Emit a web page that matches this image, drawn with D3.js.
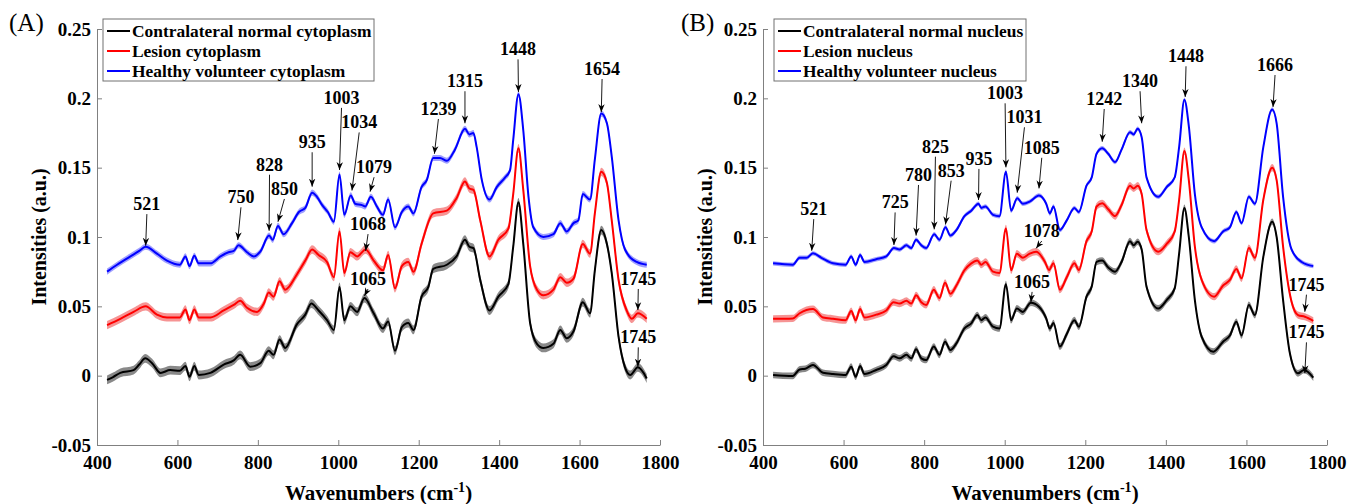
<!DOCTYPE html>
<html>
<head>
<meta charset="utf-8">
<script src="https://cdn.jsdelivr.net/npm/d3@7"></script>
<style>
  body { margin: 0; background: #fff; }
  svg { display: block; }
  text { font-family: "Liberation Serif", "Times New Roman", serif; }
</style>
</head>
<body>
<svg id="fig" width="1358" height="504"></svg>
<script>
// ---- Shared axis settings -------------------------------------------------
const xTicks = [400, 600, 800, 1000, 1200, 1400, 1600, 1800];
const yTicks = [-0.05, 0, 0.05, 0.1, 0.15, 0.2, 0.25];
const yTickLabels = ["-0.05", "0", "0.05", "0.1", "0.15", "0.2", "0.25"];

// ---- (A) cytoplasm mean spectra: [wavenumber, intensity] ----------------------
const cytoNormal = [[425,-0.003],[440,-0.001],[458,0.002],[491,0.004],[505,0.008],[520,0.0125],[537,0.009],[558,0.002],[582,0.004],[606,0.0036],[620,0.0069],[630,-0.0008],[642,0.0069],[653,0.0005],[682,0.002],[715,0.008],[740,0.011],[756,0.015],[781,0.0065],[806,0.009],[827,0.018],[839,0.015],[854,0.026],[868,0.020],[897,0.037],[918,0.044],[933,0.052],[951,0.047],[972,0.040],[989,0.033],[1003,0.064],[1015,0.040],[1030,0.050],[1047,0.046],[1065,0.056],[1088,0.045],[1111,0.034],[1124,0.039],[1141,0.018],[1158,0.035],[1174,0.038],[1187,0.033],[1207,0.057],[1224,0.064],[1236,0.077],[1270,0.080],[1294,0.086],[1315,0.098],[1326,0.093],[1336,0.092],[1353,0.069],[1376,0.047],[1398,0.057],[1423,0.066],[1435,0.093],[1448,0.125],[1460,0.095],[1477,0.038],[1494,0.023],[1510,0.020],[1535,0.023],[1552,0.033],[1568,0.027],[1585,0.032],[1608,0.053],[1626,0.045],[1638,0.076],[1654,0.105],[1668,0.095],[1680,0.074],[1697,0.028],[1713,0.006],[1726,0.0005],[1745,0.006],[1767,-0.002]];
const cytoLesion = [[425,0.0365],[458,0.041],[491,0.046],[521,0.050],[549,0.044],[574,0.042],[606,0.042],[620,0.0478],[630,0.040],[642,0.0478],[653,0.042],[682,0.042],[715,0.047],[740,0.051],[756,0.054],[773,0.049],[798,0.046],[815,0.052],[827,0.060],[839,0.057],[854,0.068],[868,0.062],[897,0.073],[918,0.083],[935,0.091],[951,0.087],[972,0.082],[989,0.071],[1003,0.104],[1015,0.074],[1030,0.089],[1047,0.086],[1068,0.091],[1088,0.083],[1111,0.076],[1124,0.087],[1141,0.063],[1158,0.079],[1174,0.082],[1187,0.075],[1207,0.095],[1236,0.117],[1270,0.119],[1294,0.128],[1315,0.140],[1326,0.135],[1336,0.134],[1353,0.112],[1376,0.086],[1398,0.098],[1423,0.106],[1435,0.131],[1448,0.164],[1460,0.134],[1477,0.079],[1494,0.062],[1510,0.058],[1535,0.062],[1552,0.071],[1568,0.067],[1585,0.070],[1608,0.095],[1626,0.088],[1638,0.117],[1654,0.147],[1668,0.139],[1680,0.112],[1697,0.069],[1717,0.047],[1730,0.041],[1745,0.045],[1767,0.041]];
const cytoHealthy = [[425,0.075],[450,0.080],[483,0.086],[505,0.090],[521,0.093],[549,0.088],[574,0.083],[606,0.080],[620,0.086],[630,0.079],[642,0.0865],[653,0.081],[682,0.081],[707,0.086],[727,0.089],[740,0.090],[752,0.094],[773,0.089],[790,0.086],[806,0.0894],[828,0.101],[837,0.098],[850,0.108],[864,0.102],[885,0.110],[902,0.118],[918,0.121],[935,0.132],[947,0.129],[960,0.123],[974,0.118],[989,0.111],[1003,0.145],[1015,0.116],[1031,0.130],[1042,0.124],[1059,0.123],[1067,0.122],[1081,0.129],[1096,0.122],[1111,0.116],[1124,0.127],[1141,0.107],[1158,0.118],[1174,0.122],[1187,0.117],[1207,0.136],[1220,0.141],[1236,0.157],[1253,0.157],[1270,0.155],[1290,0.163],[1315,0.178],[1326,0.174],[1336,0.175],[1344,0.165],[1357,0.141],[1376,0.127],[1394,0.136],[1415,0.143],[1427,0.148],[1435,0.170],[1448,0.203],[1460,0.177],[1473,0.129],[1485,0.107],[1510,0.100],[1535,0.102],[1552,0.110],[1568,0.104],[1585,0.110],[1597,0.112],[1608,0.131],[1626,0.127],[1638,0.156],[1654,0.189],[1668,0.182],[1680,0.158],[1697,0.112],[1713,0.091],[1742,0.082],[1767,0.080]];

// ---- (B) nucleus mean spectra: [wavenumber, intensity] -----------------------
const nucNormal = [[425,0.0005],[474,-0.0002],[491,0.0045],[505,0.005],[524,0.0077],[549,0.0021],[574,0.0012],[605,0.0005],[619,0.0065],[630,-0.0008],[641,0.0069],[652,0.0012],[681,0.0041],[706,0.0077],[724,0.014],[739,0.0125],[756,0.015],[768,0.0125],[780,0.019],[793,0.0125],[805,0.0113],[824,0.021],[838,0.015],[852,0.0245],[865,0.0185],[880,0.0233],[900,0.0341],[917,0.0377],[932,0.0437],[942,0.040],[952,0.042],[971,0.0353],[987,0.034],[1003,0.066],[1016,0.040],[1030,0.0485],[1045,0.046],[1065,0.0526],[1085,0.0497],[1103,0.0413],[1112,0.034],[1121,0.038],[1137,0.021],[1154,0.030],[1173,0.040],[1184,0.0353],[1203,0.057],[1216,0.0642],[1228,0.082],[1242,0.083],[1257,0.078],[1274,0.075],[1290,0.082],[1311,0.097],[1320,0.094],[1330,0.0966],[1340,0.091],[1352,0.0642],[1381,0.0485],[1402,0.0545],[1422,0.063],[1433,0.0882],[1446,0.121],[1457,0.100],[1472,0.0545],[1489,0.028],[1518,0.0173],[1542,0.0245],[1559,0.029],[1575,0.0389],[1588,0.029],[1606,0.051],[1621,0.0437],[1642,0.0858],[1664,0.111],[1675,0.100],[1691,0.0545],[1708,0.016],[1728,0.0017],[1743,0.0041],[1766,-0.0014]];
const nucLesion = [[425,0.041],[474,0.0413],[491,0.045],[524,0.048],[549,0.042],[574,0.041],[605,0.040],[619,0.0466],[630,0.040],[641,0.048],[652,0.042],[681,0.044],[706,0.047],[724,0.053],[739,0.052],[756,0.054],[768,0.052],[780,0.058],[793,0.053],[805,0.051],[824,0.062],[838,0.056],[852,0.067],[865,0.059],[880,0.065],[900,0.076],[917,0.081],[932,0.083],[942,0.080],[952,0.082],[971,0.075],[987,0.074],[1003,0.1062],[1016,0.076],[1030,0.088],[1045,0.085],[1062,0.088],[1078,0.0894],[1100,0.082],[1110,0.0762],[1121,0.081],[1137,0.062],[1154,0.071],[1173,0.081],[1184,0.0762],[1203,0.097],[1216,0.104],[1228,0.122],[1242,0.1243],[1257,0.120],[1274,0.1151],[1290,0.123],[1311,0.137],[1320,0.135],[1330,0.137],[1340,0.131],[1352,0.105],[1381,0.0894],[1402,0.095],[1422,0.104],[1433,0.127],[1446,0.162],[1457,0.141],[1472,0.093],[1489,0.069],[1520,0.057],[1542,0.065],[1559,0.069],[1575,0.077],[1588,0.0702],[1606,0.092],[1621,0.085],[1642,0.127],[1664,0.150],[1675,0.141],[1691,0.093],[1712,0.0533],[1728,0.0437],[1745,0.0425],[1766,0.0396]];
const nucHealthy = [[425,0.081],[474,0.080],[491,0.085],[508,0.085],[524,0.0882],[545,0.085],[574,0.081],[605,0.080],[619,0.086],[630,0.080],[641,0.087],[652,0.082],[681,0.084],[706,0.086],[725,0.092],[739,0.091],[756,0.094],[768,0.092],[780,0.098],[793,0.094],[805,0.092],[825,0.102],[838,0.098],[853,0.107],[865,0.101],[880,0.105],[900,0.115],[917,0.119],[935,0.124],[942,0.121],[952,0.122],[971,0.116],[987,0.115],[1003,0.147],[1016,0.119],[1031,0.128],[1045,0.124],[1062,0.1255],[1085,0.130],[1103,0.124],[1112,0.117],[1121,0.122],[1137,0.105],[1154,0.112],[1173,0.121],[1184,0.118],[1203,0.137],[1216,0.143],[1228,0.160],[1242,0.164],[1257,0.160],[1274,0.154],[1290,0.163],[1311,0.1755],[1320,0.174],[1330,0.178],[1340,0.172],[1352,0.143],[1381,0.129],[1402,0.136],[1422,0.143],[1433,0.165],[1446,0.199],[1457,0.180],[1472,0.131],[1489,0.107],[1520,0.097],[1542,0.104],[1559,0.107],[1575,0.118],[1588,0.110],[1606,0.129],[1621,0.124],[1642,0.165],[1664,0.192],[1675,0.182],[1691,0.129],[1712,0.091],[1737,0.082],[1766,0.079]];

// Half-width of the shaded spread around each mean spectrum
const cytoSpread = [0.0032, 0.0030, 0.0022];
const nucSpread = [0.0024, 0.0026, 0.0016];

const cytoNames = ["Contralateral normal cytoplasm", "Lesion cytoplasm", "Healthy volunteer cytoplasm"];
const nucNames = ["Contralateral normal nucleus", "Lesion nucleus", "Healthy volunteer nucleus"];

// Peak labels: [text, arrow-tip wavenumber, arrow-tip intensity, label wavenumber, label intensity]
const cytoPeaks = [
  ["521", 521, 0.0937, 524, 0.1194],
  ["750", 750, 0.0978, 758, 0.1243],
  ["828", 828, 0.1045, 829, 0.1478],
  ["850", 850, 0.1110, 866, 0.1303],
  ["935", 935, 0.1363, 935, 0.1640],
  ["1003", 1003, 0.1483, 1008, 0.1960],
  ["1034", 1034, 0.1335, 1052, 0.1783],
  ["1079", 1079, 0.1327, 1089, 0.1460],
  ["1068", 1068, 0.0900, 1074, 0.1050],
  ["1065", 1065, 0.0575, 1074, 0.0654],
  ["1239", 1239, 0.1600, 1249, 0.1880],
  ["1315", 1315, 0.1820, 1315, 0.2080],
  ["1448", 1448, 0.2046, 1447, 0.2310],
  ["1654", 1654, 0.1900, 1656, 0.2168],
  ["1745", 1745, 0.0473, 1746, 0.0654],
  ["1745", 1745, 0.0065, 1746, 0.0233]
];
const nucPeaks = [
  ["521", 521, 0.0901, 526, 0.1158],
  ["725", 725, 0.0942, 728, 0.1206],
  ["780", 780, 0.1010, 786, 0.1404],
  ["825", 825, 0.1055, 828, 0.1608],
  ["853", 853, 0.1090, 867, 0.1435],
  ["935", 935, 0.1267, 936, 0.1520],
  ["1003", 1003, 0.1502, 1001, 0.1993],
  ["1031", 1031, 0.1320, 1049, 0.1820],
  ["1085", 1085, 0.1350, 1092, 0.1600],
  ["1078", 1078, 0.0918, 1092, 0.1000],
  ["1065", 1065, 0.0530, 1068, 0.0633],
  ["1242", 1242, 0.1687, 1247, 0.1952],
  ["1340", 1340, 0.1820, 1336, 0.2080],
  ["1448", 1448, 0.2010, 1450, 0.2260],
  ["1666", 1666, 0.1938, 1671, 0.2197],
  ["1745", 1745, 0.0461, 1749, 0.0613],
  ["1745", 1745, 0.0017, 1749, 0.0269]
];

// ---- Styling ---------------------------------------------------------------
const lineColors = ["#000000", "#ff0000", "#0000ff"];
const bandColors = ["#3a3a3a", "#ee2a2a", "#2a2aff"];
const bandOpacity = [0.6, 0.5, 0.45];
const axisGray = "#808080";

const svg = d3.select("#fig");
const defs = svg.append("defs");
defs.append("marker")
  .attr("id", "arrowhead")
  .attr("viewBox", "0 0 10 8")
  .attr("refX", 10).attr("refY", 4)
  .attr("markerWidth", 8).attr("markerHeight", 7)
  .attr("markerUnits", "userSpaceOnUse")
  .attr("orient", "auto")
  .append("path")
  .attr("d", "M0,0 L10,4 L0,8 L3,4 Z")
  .attr("fill", "#000");

const plotTop = 29, plotBottom = 445;

function drawPanel(cfg) {
  const x = d3.scaleLinear().domain([400, 1800]).range([cfg.left, cfg.right]);
  const y = d3.scaleLinear().domain([-0.05, 0.25]).range([plotBottom, plotTop]);
  const g = svg.append("g");

  // axes (left and bottom only, ticks pointing inward)
  const yAxis = d3.axisLeft(y).tickValues(yTicks)
    .tickFormat((d, i) => yTickLabels[i])
    .tickSizeInner(-5).tickSizeOuter(0).tickPadding(6);
  const xAxis = d3.axisBottom(x).tickValues(xTicks)
    .tickFormat(d3.format("d"))
    .tickSizeInner(-5).tickSizeOuter(0).tickPadding(11);

  const ya = g.append("g").attr("transform", `translate(${cfg.left},0)`).call(yAxis);
  const xa = g.append("g").attr("transform", `translate(0,${plotBottom})`).call(xAxis);
  [ya, xa].forEach(a => {
    a.attr("font-family", null).attr("font-size", null);
    a.select(".domain").attr("stroke", axisGray).attr("stroke-width", 1);
    a.selectAll(".tick line").attr("stroke", axisGray);
    a.selectAll(".tick text")
      .attr("fill", "#000")
      .style("font-family", '"Liberation Serif", serif')
      .style("font-weight", "bold")
      .style("font-size", "19px");
  });

  // shaded spread then mean lines
  cfg.series.forEach((s, i) => {
    const area = d3.area()
      .x(d => x(d[0]))
      .y0(d => y(d[1] - cfg.spread[i]))
      .y1(d => y(d[1] + cfg.spread[i]))
      .curve(d3.curveMonotoneX);
    g.append("path").datum(s).attr("d", area)
      .attr("fill", bandColors[i]).attr("fill-opacity", bandOpacity[i]);
  });
  cfg.series.forEach((s, i) => {
    const line = d3.line().x(d => x(d[0])).y(d => y(d[1])).curve(d3.curveMonotoneX);
    g.append("path").datum(s).attr("d", line)
      .attr("fill", "none").attr("stroke", lineColors[i])
      .attr("stroke-width", 2).attr("stroke-linejoin", "round");
  });

  // peak annotations
  const pk = g.append("g");
  cfg.peaks.forEach(p => {
    const [label, tx, tv, lx, lv] = p;
    pk.append("line")
      .attr("x1", x(lx)).attr("y1", y(lv) + 4)
      .attr("x2", x(tx)).attr("y2", y(tv))
      .attr("stroke", "#000").attr("stroke-width", 0.9)
      .attr("marker-end", "url(#arrowhead)");
    pk.append("text")
      .attr("x", x(lx)).attr("y", y(lv))
      .attr("text-anchor", "middle")
      .style("font-weight", "bold").style("font-size", "18px")
      .text(label);
  });

  // legend
  const lg = g.append("g").attr("transform", `translate(${cfg.legendX},19)`);
  lg.append("rect").attr("width", cfg.legendW).attr("height", 62)
    .attr("fill", "#fff").attr("stroke", "#707070").attr("stroke-width", 1);
  cfg.names.forEach((n, i) => {
    const ry = 12 + i * 20;
    lg.append("line").attr("x1", 4).attr("x2", 27).attr("y1", ry).attr("y2", ry)
      .attr("stroke", lineColors[i]).attr("stroke-width", 2);
    lg.append("text").attr("x", 29).attr("y", ry + 6)
      .style("font-weight", "bold").style("font-size", "17.4px").text(n);
  });

  // axis titles
  g.append("text")
    .attr("transform", `translate(${cfg.left - 51},${(plotTop + plotBottom) / 2}) rotate(-90)`)
    .attr("text-anchor", "middle")
    .style("font-weight", "bold").style("font-size", "20px")
    .text("Intensities (a.u.)");
  const xt = g.append("text")
    .attr("x", (cfg.left + cfg.right) / 2).attr("y", 500)
    .attr("text-anchor", "middle")
    .style("font-weight", "bold").style("font-size", "21px");
  xt.append("tspan").text("Wavenumbers (cm");
  xt.append("tspan").attr("dy", -8).style("font-size", "14px").text("-1");
  xt.append("tspan").attr("dy", 8).text(")");

  // panel letter
  g.append("text").attr("x", cfg.letterX).attr("y", 31)
    .style("font-size", "25px").text(cfg.letter);
}

drawPanel({
  left: 97, right: 660, letter: "(A)", letterX: 9,
  series: [cytoNormal, cytoLesion, cytoHealthy], spread: cytoSpread,
  names: cytoNames, peaks: cytoPeaks, legendX: 103, legendW: 271
});
drawPanel({
  left: 763, right: 1327, letter: "(B)", letterX: 681,
  series: [nucNormal, nucLesion, nucHealthy], spread: nucSpread,
  names: nucNames, peaks: nucPeaks, legendX: 774, legendW: 252
});
</script>
</body>
</html>
